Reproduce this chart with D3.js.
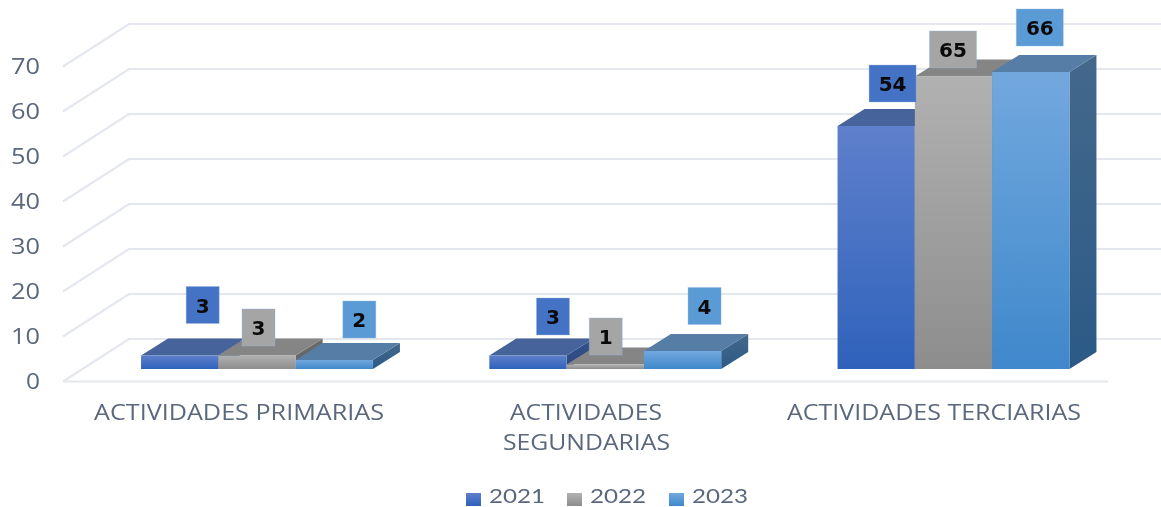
<!DOCTYPE html>
<html><head><meta charset="utf-8">
<style>html,body{margin:0;padding:0;background:#fff}svg{display:block;filter:blur(0.5px)}</style>
<script src="https://cdn.jsdelivr.net/npm/d3@7"></script></head>
<body><div id="chart"></div>
<script>
const categories = ["ACTIVIDADES PRIMARIAS", "ACTIVIDADES SEGUNDARIAS", "ACTIVIDADES TERCIARIAS"];
const seriesNames = ["2021", "2022", "2023"];
const values2021 = [3, 3, 54];
const values2022 = [3, 1, 65];
const values2023 = [2, 4, 66];
const yTicks = [0, 10, 20, 30, 40, 50, 60, 70];

const W = 1161, H = 507;
const svg = d3.select("#chart").append("svg").attr("width", W).attr("height", H);
const font = "'Open Sans', sans-serif";
const textColor = "#5a677c";

const y = d3.scaleLinear().domain([0, 70]).range([369, 54]);
const x0 = d3.scalePoint().domain(categories).range([257, 953.5]);
const barW = 77.3;
const x1 = d3.scaleBand().domain(seriesNames).range([-barW * 1.5, barW * 1.5]);
const depth = {dx: 27, dy: -17};

const styles = [
  {top: "#46639b", side: "#33528f", a: "#5f80cc", b: "#2f62bb", box: "#4472c4"},
  {top: "#858585", side: "#6d6d6d", a: "#b1b1b1", b: "#8d8d8d", box: "#a5a5a5"},
  {top: "#567da6", side: "#44688c", a: "#72a8de", b: "#3f88cb", box: "#5b9bd5", sideB: "#2b5a86"}
];
const defs = svg.append("defs");
styles.forEach((s, i) => {
  const g = defs.append("linearGradient").attr("id", "f" + i).attr("x1", 0).attr("y1", 0).attr("x2", 0).attr("y2", 1);
  g.append("stop").attr("offset", 0).attr("stop-color", s.a);
  g.append("stop").attr("offset", 1).attr("stop-color", s.b);
  const k = defs.append("linearGradient").attr("id", "s" + i).attr("x1", 0).attr("y1", 0).attr("x2", 0).attr("y2", 1);
  k.append("stop").attr("offset", 0).attr("stop-color", s.side);
  k.append("stop").attr("offset", 1).attr("stop-color", s.sideB || d3.color(s.side).darker(0.35));
});

// walls and gridlines
const grid = svg.append("g").attr("fill", "none").attr("stroke", "#e4e7ee").attr("stroke-width", 2.2);
const frontX = 63, backX = 129, rightBack = W, rightFront = 1108;
yTicks.forEach(v => {
  const yb = y(v) - 30, yf = y(v) + 12.5;
  grid.append("path").attr("d", `M${frontX},${yf}L${backX},${yb}L${rightBack},${yb}`);
  if (v === 0) grid.append("path").attr("d", `M${frontX},${yf}L${rightFront},${yf}`);
});

// y labels
svg.append("g").selectAll("text").data(yTicks).join("text")
  .attr("x", 40).attr("y", d => y(d) + 20)
  .attr("text-anchor", "end").attr("font-family", font).attr("font-size", 22)
  .attr("fill", textColor).attr("textLength", d => d === 0 ? 14 : 29).attr("lengthAdjust", "spacingAndGlyphs")
  .text(d => d);

// bars
const allSeries = [values2021, values2022, values2023];
categories.forEach((cat, ci) => {
  const g = svg.append("g");
  seriesNames.forEach((sn, si) => {
    const v = allSeries[si][ci];
    const xl = x0(cat) + x1(sn), xr = xl + barW;
    const yt = y(v), yb = y(0);
    const st = d3.path();
    st.moveTo(xl, yt); st.lineTo(xl + depth.dx, yt + depth.dy); st.lineTo(xr + depth.dx, yt + depth.dy); st.lineTo(xr, yt); st.closePath();
    const sd = d3.path();
    sd.moveTo(xr, yt); sd.lineTo(xr + depth.dx, yt + depth.dy); sd.lineTo(xr + depth.dx, yb + depth.dy); sd.lineTo(xr, yb); sd.closePath();
    g.append("path").attr("d", sd.toString()).attr("fill", `url(#s${si})`);
    g.append("path").attr("d", st.toString()).attr("fill", styles[si].top);
    g.append("rect").attr("x", xl).attr("y", yt).attr("width", barW).attr("height", yb - yt).attr("fill", `url(#f${si})`);
  });
});

// data labels on top of all bars (manual placement relative to each bar's top centre)
const labelOffsets = [
  [[23, -50.5], [1.5, -28], [25, -40.5]],
  [[25, -39], [0.5, -28], [22, -45]],
  [[16.4, -42.5], [-0.5, -27], [9, -44.5]]
];
categories.forEach((cat, ci) => {
  seriesNames.forEach((sn, si) => {
    const v = allSeries[si][ci];
    const [ox, oy] = labelOffsets[ci][si];
    const cx = x0(cat) + x1(sn) + barW / 2 + ox;
    const cy = y(v) + oy;
    const w = v >= 10 ? 47 : 33, h = 37;
    svg.append("rect").attr("x", cx - w / 2).attr("y", cy - h / 2).attr("width", w).attr("height", h)
      .attr("fill", styles[si].box).attr("stroke", "#8fb4e0").attr("stroke-opacity", 0.35).attr("stroke-width", 1);
    svg.append("text").attr("x", cx).attr("y", cy + 7.5).attr("text-anchor", "middle")
      .attr("font-family", "'DejaVu Sans', sans-serif").attr("font-weight", 700).attr("font-size", 20).attr("fill", "#0a0a0a").text(v);
  });
});

// category labels
const catText = (x, yy, len, t) => svg.append("text").attr("x", x).attr("y", yy).attr("text-anchor", "middle")
  .attr("font-family", font).attr("font-size", 22).attr("fill", textColor)
  .attr("textLength", len).attr("lengthAdjust", "spacingAndGlyphs").text(t);
catText(239, 420, 290, categories[0]);
const words = categories[1].split(" ");
catText(586, 420, 152, words[0]);
catText(586.5, 450, 167, words[1]);
catText(934, 420, 294, categories[2]);

// legend
const legendX = [466, 567, 669];
seriesNames.forEach((s, i) => {
  svg.append("rect").attr("x", legendX[i]).attr("y", 493).attr("width", 15).attr("height", 13)
    .attr("fill", `url(#f${i})`);
  svg.append("text").attr("x", legendX[i] + 23).attr("y", 502.8).attr("font-family", "Lato, sans-serif").attr("font-size", 20)
    .attr("fill", textColor).attr("textLength", 56).attr("lengthAdjust", "spacingAndGlyphs").text(s);
});
</script></body></html>
